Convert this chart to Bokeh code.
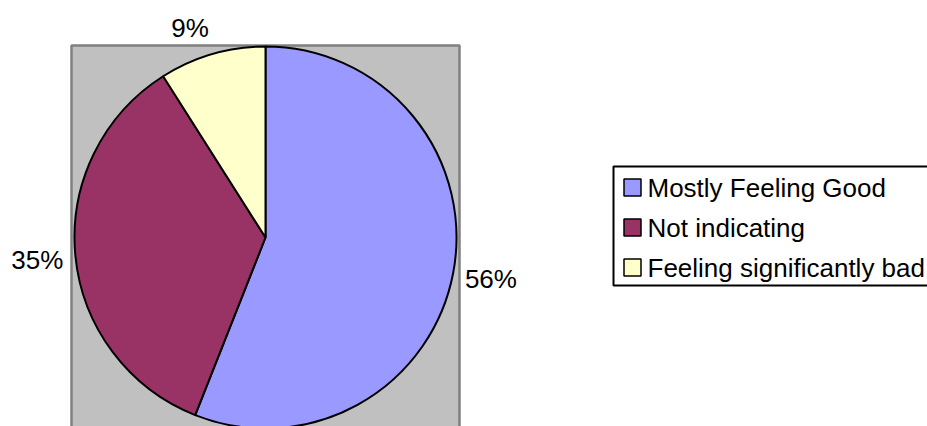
import numpy as np
from bokeh.plotting import figure
from bokeh.models import Range1d
from bokeh.core.properties import value
from bokeh.embed import file_html
from bokeh.resources import INLINE

# ---- data ----
categories = ["Mostly Feeling Good", "Not indicating", "Feeling significantly bad"]
percents = [56, 35, 9]
colors = ["#9999FF", "#993366", "#FFFFCC"]
pct_labels = ["56%", "35%", "9%"]

W, H = 927, 426
FONT = "Liberation Sans"
FS = "26px"

p = figure(width=W, height=H, x_range=Range1d(0, W), y_range=Range1d(0, H),
           x_axis_type=None, y_axis_type=None, toolbar_location=None,
           output_backend="svg", min_border=0)
p.grid.visible = False
p.outline_line_color = None
p.background_fill_color = "white"
p.border_fill_color = "white"

# plot area (grey box)
cx, cy, r = 265, 189, 191
p.quad(left=[cx - r - 3], right=[cx + r + 3], top=[cy + r + 1], bottom=[-20],
       fill_color="#C0C0C0", line_color="#808080", line_width=2.5)

# pie wedges, starting at 12 o'clock going clockwise
vals = np.array(percents, dtype=float)
frac = vals / vals.sum()
cum_end = np.cumsum(frac)
cum_start = cum_end - frac
starts = np.pi / 2 - cum_end * 2 * np.pi
ends = np.pi / 2 - cum_start * 2 * np.pi
p.wedge(x=[cx] * len(vals), y=[cy] * len(vals), radius=r,
        start_angle=list(starts), end_angle=list(ends),
        fill_color=colors, line_color="black", line_width=2)

# percentage labels outside the pie
mids = (starts + ends) / 2
rl = r + 12
for lab, th in zip(pct_labels, mids):
    c, s = np.cos(th), np.sin(th)
    ax, ay = cx + rl * c, cy + rl * s
    align = "left" if c > 0.25 else ("right" if c < -0.25 else "center")
    base = "bottom" if s > 0.5 else ("top" if s < -0.5 else "middle")
    if base == "middle":
        ay -= 3
    p.text(x=[ax], y=[ay], text=[lab], text_font=value(FONT), text_font_size=FS,
           text_color="black", text_align=align, text_baseline=base)

# legend
lx0, ly_top, row_h = 613, 260, 40
n = len(categories)
p.quad(left=[lx0], right=[W + 20], top=[ly_top], bottom=[ly_top - 119],
       fill_color="white", line_color="black", line_width=2)
sq_y = [ly_top - 21 - i * row_h for i in range(n)]
p.rect(x=[lx0 + 19] * n, y=sq_y, width=17, height=17,
       fill_color=colors, line_color="black", line_width=1.5)
p.text(x=[lx0 + 34] * n, y=sq_y, text=categories,
       text_font=value(FONT), text_font_size=FS, text_color="black",
       text_align="left", text_baseline="middle")

open("out.html", "w").write(file_html(p, INLINE))
